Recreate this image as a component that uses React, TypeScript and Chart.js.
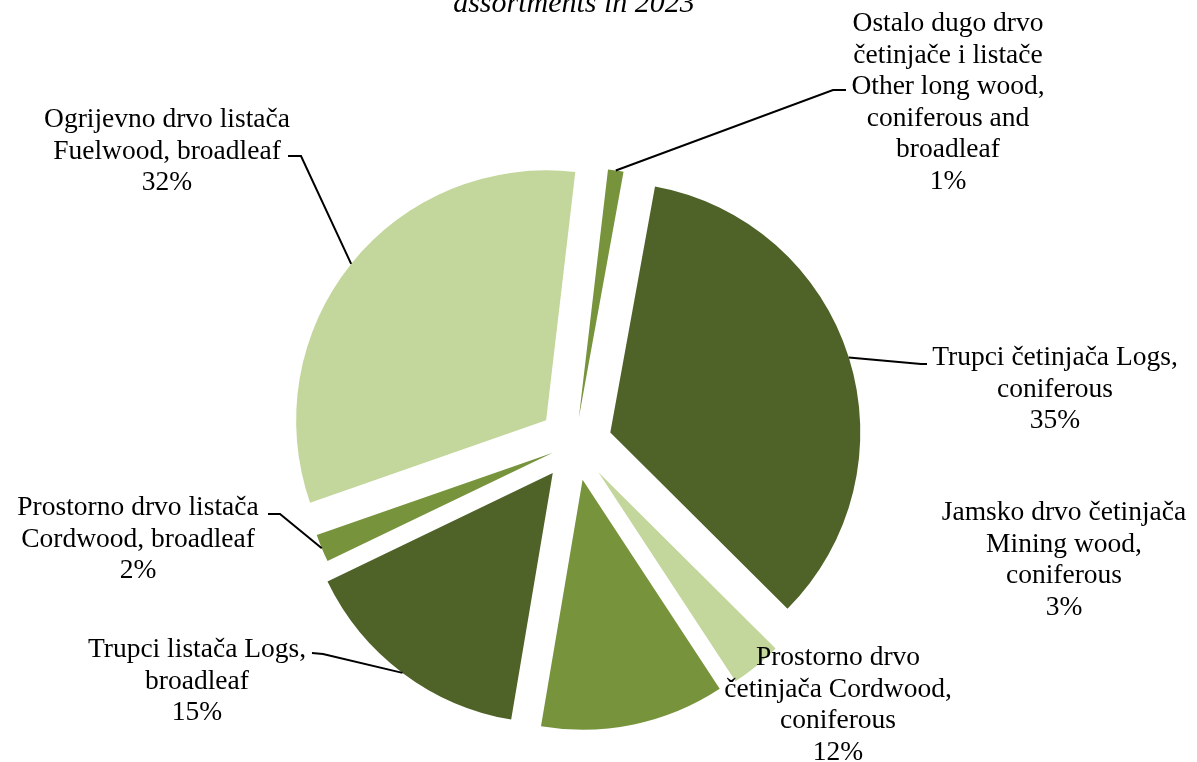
import React, { useEffect, useRef } from "react";
import { Chart, ArcElement, PieController } from "chart.js";

Chart.register(ArcElement, PieController);

// ---- data ----
const categories = [
  "Ostalo dugo drvo četinjače i listače Other long wood, coniferous and broadleaf",
  "Trupci četinjača Logs, coniferous",
  "Jamsko drvo četinjača Mining wood, coniferous",
  "Prostorno drvo četinjača Cordwood, coniferous",
  "Trupci listača Logs, broadleaf",
  "Prostorno drvo listača Cordwood, broadleaf",
  "Ogrijevno drvo listača Fuelwood, broadleaf",
];
const shares = [1.0, 34.6, 3.3, 11.9, 15.2, 1.8, 32.2];
const labelLines = [
  ["Ostalo dugo drvo", "četinjače i listače", "Other long wood,", "coniferous and", "broadleaf"],
  ["Trupci četinjača Logs,", "coniferous"],
  ["Jamsko drvo četinjača", "Mining wood,", "coniferous"],
  ["Prostorno drvo", "četinjača Cordwood,", "coniferous"],
  ["Trupci listača Logs,", "broadleaf"],
  ["Prostorno drvo listača", "Cordwood, broadleaf"],
  ["Ogrijevno drvo listača", "Fuelwood, broadleaf"],
];
const titleText = "assortments in 2023";

// ---- styles / layout ----
const colors = ["#77933C", "#4F6228", "#C3D69B", "#77933C", "#4F6228", "#77933C", "#C3D69B"];
const explode = [26, 37, 37, 37, 37, 24, 37];
const labelCenterX = [948, 1055, 1064, 838, 197, 138, 167];
const labelFirstBaseline = [31, 365, 520, 665, 657, 515, 127];
const lineGap = 31.5;
// leader: [stubEndX, stubEndY, elbowX, elbowY] or null
const leaders: (number[] | null)[] = [
  [846, 90, 833, 90],
  [927, 364, 921, 364],
  null,
  null,
  [312, 653, 323, 654],
  [268, 514, 280, 514],
  [288, 156, 301, 156],
];

const labelFont = "27.5px 'Liberation Serif'";
const titleFont = "italic 30px 'Liberation Serif'";

const overlayPlugin = {
  id: "overlay",
  beforeDatasetDraw(chart: any, args: any) {
    const ctx = chart.ctx;
    args.meta.data.forEach((arc: any, i: number) => {
      const mid = (arc.startAngle + arc.endAngle) / 2;
      const d = explode[i];
      ctx.save();
      ctx.translate(Math.cos(mid) * d, Math.sin(mid) * d);
      arc.draw(ctx);
      ctx.restore();
    });
    return false;
  },
  afterDraw(chart: any) {
    const ctx = chart.ctx;
    const meta = chart.getDatasetMeta(0);
    ctx.save();
    // title (partially cut at top)
    ctx.font = titleFont;
    ctx.fillStyle = "#000";
    ctx.textAlign = "center";
    ctx.textBaseline = "alphabetic";
    ctx.fillText(titleText, 574, 12);

    // leader lines
    ctx.strokeStyle = "#000";
    ctx.lineWidth = 2;
    meta.data.forEach((arc: any, i: number) => {
      const ld = leaders[i];
      if (!ld) return;
      const mid = (arc.startAngle + arc.endAngle) / 2;
      const R = arc.outerRadius + explode[i];
      const ax = arc.x + Math.cos(mid) * R;
      const ay = arc.y + Math.sin(mid) * R;
      ctx.beginPath();
      ctx.moveTo(ld[0], ld[1]);
      ctx.lineTo(ld[2], ld[3]);
      ctx.lineTo(ax, ay);
      ctx.stroke();
    });

    // labels
    ctx.font = labelFont;
    meta.data.forEach((_arc: any, i: number) => {
      const lines = [...labelLines[i], Math.round(shares[i]) + "%"];
      lines.forEach((t, k) => {
        ctx.fillText(t, labelCenterX[i], labelFirstBaseline[i] + k * lineGap);
      });
    });
    ctx.restore();
  },
};

export default function App() {
  const ref = useRef<HTMLCanvasElement | null>(null);
  useEffect(() => {
    if (!ref.current) return;
    const chart = new Chart(ref.current, {
      type: "pie",
      data: {
        labels: categories,
        datasets: [
          {
            data: shares,
            backgroundColor: colors,
            borderWidth: 0,
          },
        ],
      },
      options: {
        animation: false,
        responsive: true,
        maintainAspectRatio: false,
        rotation: 6.7,
        radius: 250,
        layout: { padding: { left: 0, right: 47, top: 125, bottom: 0 } },
        plugins: { legend: { display: false }, tooltip: { enabled: false } },
        events: [],
      },
      plugins: [overlayPlugin],
    });
    return () => chart.destroy();
  }, []);
  return (
    <div style={{ position: "fixed", left: 0, top: 0, width: 1197, height: 762, background: "#fff" }}>
      <canvas ref={ref} />
    </div>
  );
}
